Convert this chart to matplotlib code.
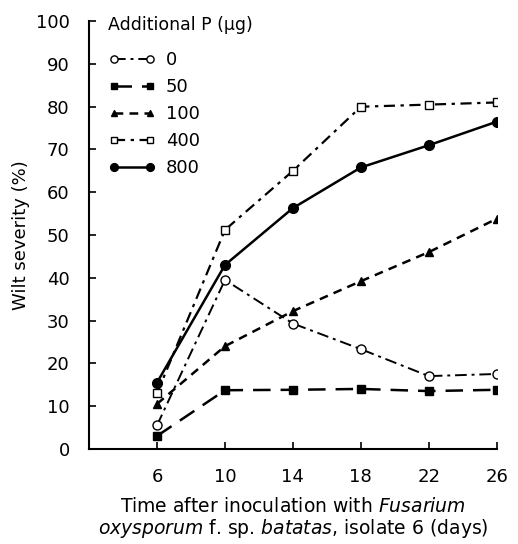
import matplotlib
matplotlib.use("Agg")
import matplotlib.pyplot as plt
from matplotlib.lines import Line2D

plt.rcParams['font.family'] = ['DejaVu Sans']
plt.rcParams['mathtext.fontset'] = 'dejavusans'

days = [6, 10, 14, 18, 22, 26]
labels = ["0", "50", "100", "400", "800"]
p0 = [5.5, 39.5, 29.3, 23.3, 17.0, 17.5]
p50 = [3.0, 13.7, 13.8, 14.0, 13.5, 13.8]
p100 = [10.5, 24.0, 32.2, 39.2, 46.0, 53.8]
p400 = [13.0, 51.2, 65.0, 80.0, 80.5, 81.0]
p800 = [15.5, 43.0, 56.3, 65.8, 71.0, 76.5]
xticks = [6, 10, 14, 18, 22, 26]
yticks = list(range(0, 101, 10))

series = [p0, p50, p100, p400, p800]
styles = [
    dict(marker='o', mfc='white', mec='black', ms=6.5, lw=1.4, dashes=(6, 2.5, 1.5, 2.5)),
    dict(marker='s', mfc='black', mec='black', ms=5.5, lw=1.8, dashes=(7, 4)),
    dict(marker='^', mfc='black', mec='black', ms=5.5, lw=1.8, dashes=(3.5, 2.5)),
    dict(marker='s', mfc='white', mec='black', ms=5.5, lw=1.6, dashes=(5, 2.5, 1.5, 2.5)),
    dict(marker='o', mfc='black', mec='black', ms=7, lw=1.8, dashes=None),
]

fig = plt.figure(figsize=(5.18, 5.44), dpi=100)
ax = fig.add_axes([0.172, 0.175, 0.787, 0.786])

handles = []
for ys, st, lab in zip(series, styles, labels):
    st = dict(st)
    dashes = st.pop('dashes')
    ln, = ax.plot(days, ys, color='black', mew=1.0, label=lab, **st)
    if dashes is not None:
        ln.set_dashes(dashes)
    h = Line2D([], [], color='black', marker=st['marker'], mfc=st['mfc'],
               mec='black', ms=st['ms'] * 0.8, lw=st['lw'], mew=1.0)
    if dashes is not None:
        h.set_dashes(dashes)
    handles.append(h)

ax.set_xlim(2, 26)
ax.set_ylim(0, 100)
ax.set_xticks(xticks)
ax.set_yticks(yticks)
ax.spines['top'].set_visible(False)
ax.spines['right'].set_visible(False)
for s in ['left', 'bottom']:
    ax.spines[s].set_linewidth(1.5)
ax.tick_params(direction='in', length=5, width=1.2, labelsize=13)
ax.tick_params(axis='x', pad=14)
ax.tick_params(axis='y', pad=14)

ax.set_ylabel("Wilt severity (%)", fontsize=13, labelpad=4)
ax.set_xlabel("Time after inoculation with $\\it{Fusarium}$\n"
              "$\\it{oxysporum}$ f. sp. $\\it{batatas}$, isolate 6 (days)",
              fontsize=13.5, labelpad=8, linespacing=1.05)

ax.text(0.047, 0.99, "Additional P (μg)", transform=ax.transAxes,
        fontsize=12.5, ha='left', va='center')
ax.legend(handles=handles, labels=labels, loc='upper left',
          bbox_to_anchor=(0.047, 0.93), frameon=False, fontsize=13,
          handlelength=2.6, numpoints=2, labelspacing=0.5,
          handletextpad=0.6, borderpad=0, borderaxespad=0)

fig.savefig("out.png", dpi=100)
